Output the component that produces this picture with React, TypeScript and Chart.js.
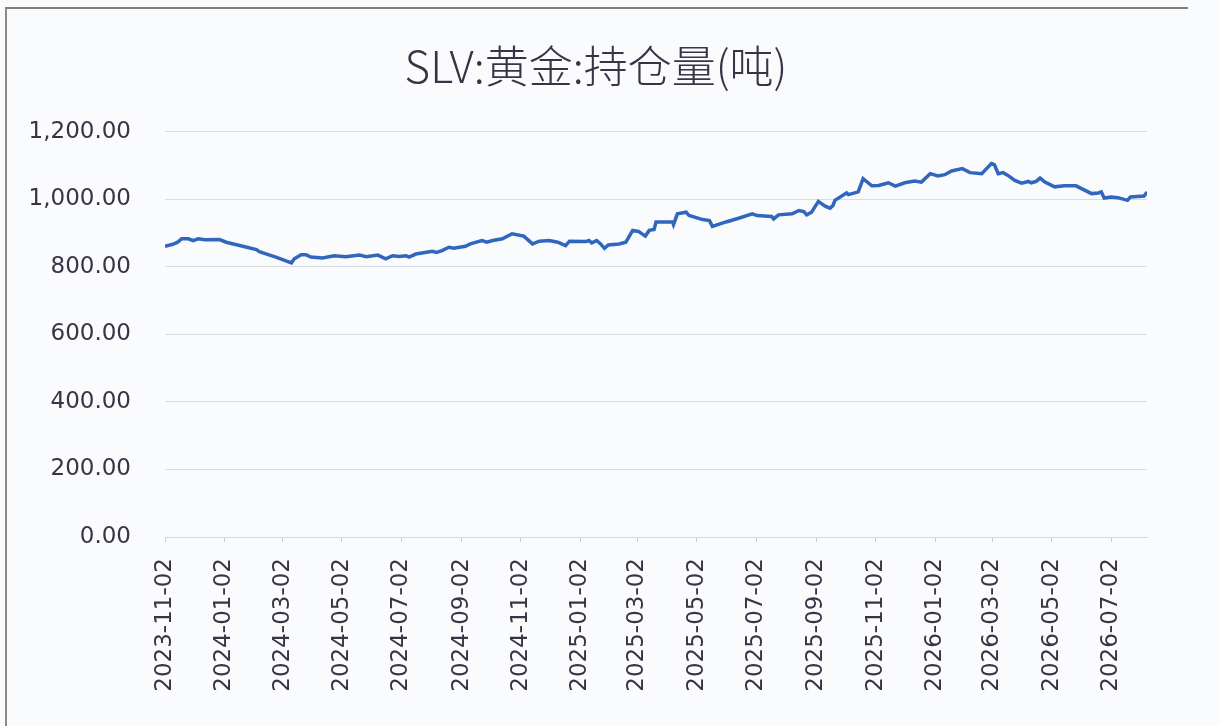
import { useEffect, useRef } from 'react';
import { Chart, registerables } from 'chart.js';

Chart.register(...registerables);

const title = 'SLV:黄金:持仓量(吨)';

const dates = [
  '2023-11-02', '2023-11-10', '2023-11-15', '2023-11-19', '2023-11-26', '2023-12-01', '2023-12-06', '2023-12-13', '2023-12-28',
  '2024-01-04', '2024-01-21', '2024-02-04', '2024-02-07', '2024-02-24', '2024-03-11', '2024-03-14', '2024-03-21', '2024-03-26', '2024-03-31',
  '2024-04-12', '2024-04-24', '2024-05-06', '2024-05-20', '2024-05-27', '2024-06-08', '2024-06-16', '2024-06-23', '2024-06-30', '2024-07-07',
  '2024-07-10', '2024-07-17', '2024-08-03', '2024-08-07', '2024-08-13', '2024-08-20', '2024-08-25', '2024-09-06', '2024-09-11', '2024-09-23',
  '2024-09-28', '2024-10-04', '2024-10-14', '2024-10-24', '2024-11-05', '2024-11-14', '2024-11-21', '2024-12-01', '2024-12-10', '2024-12-18',
  '2024-12-22',
  '2025-01-08', '2025-01-11', '2025-01-14', '2025-01-19', '2025-01-23', '2025-01-27', '2025-01-31', '2025-02-11', '2025-02-18', '2025-02-25',
  '2025-03-03', '2025-03-10', '2025-03-14', '2025-03-19', '2025-03-21', '2025-04-07', '2025-04-08', '2025-04-12', '2025-04-21', '2025-04-24',
  '2025-05-08', '2025-05-15', '2025-05-18', '2025-06-01', '2025-06-14', '2025-06-28', '2025-07-03', '2025-07-18', '2025-07-20', '2025-07-25',
  '2025-08-08', '2025-08-15', '2025-08-20', '2025-08-23', '2025-08-28', '2025-09-04', '2025-09-11', '2025-09-16', '2025-09-19', '2025-09-21',
  '2025-10-03', '2025-10-05', '2025-10-15', '2025-10-20', '2025-10-29', '2025-11-05', '2025-11-15', '2025-11-22', '2025-12-02', '2025-12-12',
  '2025-12-19', '2025-12-28',
  '2026-01-05', '2026-01-12', '2026-01-19', '2026-01-30', '2026-02-07', '2026-02-19', '2026-02-24', '2026-03-01', '2026-03-04', '2026-03-08',
  '2026-03-13', '2026-03-18', '2026-03-25', '2026-04-01', '2026-04-08', '2026-04-11', '2026-04-16', '2026-04-20', '2026-04-25', '2026-05-05',
  '2026-05-15', '2026-05-27', '2026-06-12', '2026-06-19', '2026-06-22', '2026-06-25', '2026-07-02', '2026-07-09', '2026-07-19', '2026-07-22',
  '2026-08-05', '2026-08-08'
];

const holdings = [
  861, 867, 873, 883, 883, 878, 883, 880, 881,
  873, 861, 851, 845, 829, 812, 824, 836, 836, 829,
  826, 833, 830, 835, 830, 835, 824, 833, 831, 833,
  829, 838, 846, 843, 848, 858, 855, 861, 868, 878,
  873, 878, 883, 898, 891, 868, 876, 878, 873, 863,
  876,
  875, 878, 871, 878, 868, 855, 865, 868, 873, 908,
  905, 891, 908, 911, 933, 933, 925, 957, 962, 952,
  940, 937, 920, 933, 944, 957, 952, 949, 942, 954,
  957, 967, 964, 954, 962, 994, 980, 974, 982, 997,
  1019, 1014, 1022, 1061, 1040, 1041, 1049, 1039, 1049, 1054,
  1051, 1076,
  1069, 1073, 1084, 1091, 1079, 1076, 1091, 1106, 1103, 1076,
  1079, 1071, 1056, 1048, 1053, 1049, 1053, 1063, 1051, 1037,
  1040, 1040, 1017, 1019, 1022, 1004, 1007, 1005, 997, 1007,
  1010, 1022
];

const tickLabels = [
  '2023-11-02', '2024-01-02', '2024-03-02', '2024-05-02', '2024-07-02', '2024-09-02', '2024-11-02', '2025-01-02',
  '2025-03-02', '2025-05-02', '2025-07-02', '2025-09-02', '2025-11-02', '2026-01-02', '2026-03-02', '2026-05-02',
  '2026-07-02'
];

const yTicks = [0, 200, 400, 600, 800, 1000, 1200];

const dayOf = (d: string) => (Date.parse(d) - Date.parse(dates[0])) / 86400000;

const textColor = '#3a3346';
const axisFont = { family: 'DejaVu Sans', size: 23 };

export default function App() {
  const canvasRef = useRef<HTMLCanvasElement>(null);
  const chartRef = useRef<Chart | null>(null);

  useEffect(() => {
    document.body.style.margin = '0';
    if (!canvasRef.current) return;
    const ctx = canvasRef.current.getContext('2d');
    if (!ctx) return;

    if (chartRef.current) chartRef.current.destroy();

    chartRef.current = new Chart(ctx, {
      type: 'line',
      data: {
        datasets: [
          {
            label: title,
            data: dates.map((d, i) => ({ x: dayOf(d), y: holdings[i] })),
            borderColor: '#3166bf',
            borderWidth: 3.5,
            pointRadius: 0,
            tension: 0,
            fill: false,
            yAxisID: 'y'
          }
        ]
      },
      options: {
        responsive: false,
        animation: false,
        layout: { padding: { left: 0, right: 28, top: 0, bottom: 0 } },
        plugins: {
          legend: { display: false },
          tooltip: { enabled: false },
          title: {
            display: true,
            text: title,
            color: textColor,
            font: { family: 'Noto Sans CJK SC', size: 44, weight: 300 },
            padding: { top: 40, bottom: 39 }
          }
        },
        scales: {
          x: {
            type: 'linear',
            min: 0,
            max: dayOf(dates[dates.length - 1]),
            afterBuildTicks: (scale) => {
              scale.ticks = tickLabels.map((t) => ({ value: dayOf(t) }));
            },
            afterFit: (scale) => {
              scale.height = 189;
            },
            ticks: {
              autoSkip: false,
              maxRotation: 90,
              minRotation: 90,
              padding: 16,
              color: textColor,
              font: axisFont,
              callback: (_v, i) => tickLabels[i]
            },
            grid: {
              drawOnChartArea: false,
              drawTicks: true,
              tickLength: 5,
              color: '#c9ccd4'
            },
            border: { display: true, color: '#d3d6dd' }
          },
          y: {
            min: 0,
            max: 1200,
            afterBuildTicks: (scale) => {
              scale.ticks = yTicks.map((v) => ({ value: v }));
            },
            afterFit: (scale) => {
              scale.width = 165;
            },
            ticks: {
              padding: 34,
              color: textColor,
              font: axisFont,
              callback: (v) =>
                Number(v).toLocaleString('en-US', { minimumFractionDigits: 2, maximumFractionDigits: 2 })
            },
            grid: { color: '#d9dbe2', lineWidth: 1, drawTicks: false },
            border: { display: false }
          },
          // empty right-hand strip so the plot ends where the reference does
          spacer: {
            type: 'linear',
            position: 'right',
            min: 0,
            max: 1200,
            afterFit: (scale) => {
              scale.width = 45;
            },
            ticks: { display: false },
            grid: { drawOnChartArea: false, drawTicks: false },
            border: { display: false }
          }
        }
      }
    });

    return () => {
      if (chartRef.current) {
        chartRef.current.destroy();
        chartRef.current = null;
      }
    };
  }, []);

  return (
    <div
      style={{
        position: 'absolute',
        left: 0,
        top: 0,
        width: 1220,
        height: 726,
        background: '#fafbfd',
        overflow: 'hidden'
      }}
    >
      <div
        style={{
          position: 'absolute',
          left: 5,
          top: 7,
          width: 1181,
          height: 760,
          borderTop: '2px solid #7d7d7d',
          borderLeft: '2px solid #8a8a8a'
        }}
      />
      <canvas ref={canvasRef} width={1220} height={726} style={{ position: 'absolute', left: 0, top: 0 }} />
    </div>
  );
}
